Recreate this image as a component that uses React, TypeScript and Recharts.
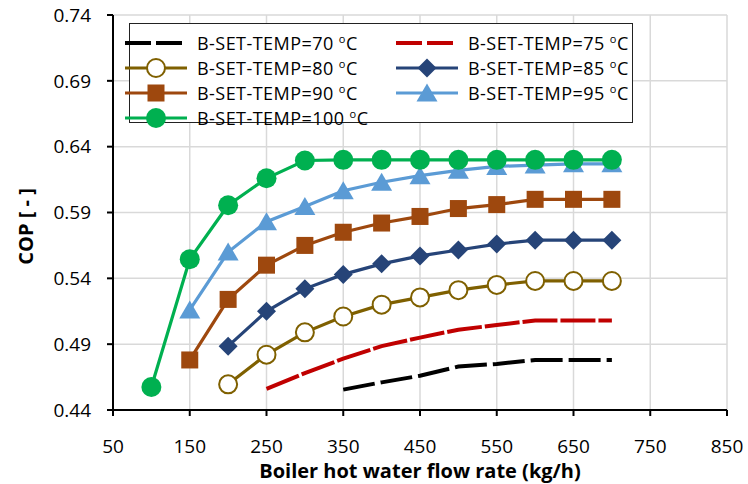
import React from 'react';
import { LineChart, Line, XAxis, YAxis, CartesianGrid, Legend } from 'recharts';

const flowRates = [100, 150, 200, 250, 300, 350, 400, 450, 500, 550, 600, 650, 700];
const cop70 = [null, null, null, null, null, 0.4555, 0.461, 0.466, 0.473, 0.475, 0.478, 0.478, 0.478];
const cop75 = [null, null, null, 0.456, 0.468, 0.479, 0.4885, 0.495, 0.501, 0.5045, 0.508, 0.508, 0.508];
const cop80 = [null, null, 0.4595, 0.482, 0.499, 0.511, 0.52, 0.5255, 0.531, 0.535, 0.538, 0.538, 0.538];
const cop85 = [null, null, 0.4885, 0.515, 0.532, 0.543, 0.551, 0.557, 0.5615, 0.566, 0.569, 0.569, 0.569];
const cop90 = [null, 0.478, 0.524, 0.55, 0.565, 0.575, 0.582, 0.587, 0.593, 0.596, 0.6, 0.6, 0.6];
const cop95 = [null, 0.516, 0.56, 0.583, 0.5945, 0.6065, 0.613, 0.618, 0.622, 0.625, 0.626, 0.627, 0.627];
const cop100 = [0.4575, 0.5545, 0.5955, 0.616, 0.6295, 0.63, 0.63, 0.63, 0.63, 0.63, 0.63, 0.63, 0.63];

const xTicks = [50, 150, 250, 350, 450, 550, 650, 750, 850];
const yTicks = [0.44, 0.49, 0.54, 0.59, 0.64, 0.69, 0.74];

const FONT = '"Open Sans", sans-serif';

type Marker = 'none' | 'open' | 'circle' | 'square' | 'diamond' | 'triangle';

const series: { key: string; temp: number; color: string; marker: Marker; dash?: string; values: (number | null)[] }[] = [
  { key: 't70', temp: 70, color: '#000000', marker: 'none', dash: '32 6', values: cop70 },
  { key: 't75', temp: 75, color: '#C00000', marker: 'none', dash: '35 3', values: cop75 },
  { key: 't80', temp: 80, color: '#7F6000', marker: 'open', values: cop80 },
  { key: 't85', temp: 85, color: '#264478', marker: 'diamond', values: cop85 },
  { key: 't90', temp: 90, color: '#9E480E', marker: 'square', values: cop90 },
  { key: 't95', temp: 95, color: '#5B9BD5', marker: 'triangle', values: cop95 },
  { key: 't100', temp: 100, color: '#00B050', marker: 'circle', values: cop100 },
];

const data = flowRates.map((x, i) => {
  const row: Record<string, number | null> = { x };
  series.forEach(s => { row[s.key] = s.values[i]; });
  return row;
});

const drawMarker = (marker: Marker, color: string, cx: number, cy: number, key?: string) => {
  switch (marker) {
    case 'open':
      return <circle key={key} cx={cx} cy={cy} r={9} fill="#fff" stroke={color} strokeWidth={2} />;
    case 'circle':
      return <circle key={key} cx={cx} cy={cy} r={10} fill={color} />;
    case 'square':
      return <rect key={key} x={cx - 8.5} y={cy - 8.5} width={17} height={17} fill={color} />;
    case 'diamond':
      return <path key={key} d={`M${cx},${cy - 9.5}L${cx + 9.5},${cy}L${cx},${cy + 9.5}L${cx - 9.5},${cy}Z`} fill={color} />;
    case 'triangle':
      return <path key={key} d={`M${cx},${cy - 9.5}L${cx + 10.5},${cy + 8.5}L${cx - 10.5},${cy + 8.5}Z`} fill={color} />;
    default:
      return null;
  }
};

const makeDot = (marker: Marker, color: string) => (props: any) => {
  const { cx, cy, index, value } = props;
  if (value == null || cy == null || isNaN(cy)) return <g key={`e-${index}`} />;
  return drawMarker(marker, color, cx, cy, `d-${index}`);
};

const renderLegend = () => (
  <div style={{ display: 'grid', gridTemplateColumns: '271px 233px', rowGap: 0, paddingTop: 6, fontFamily: FONT, fontSize: 18, letterSpacing: 0.45, lineHeight: '20px', color: '#000' }}>
    {series.map(s => (
      <div key={s.key} style={{ display: 'flex', alignItems: 'center', height: 25, whiteSpace: 'nowrap' }}>
        <svg width={62} height={24} style={{ marginLeft: -5, marginRight: 10 }}>
          <line x1={0} y1={12} x2={62} y2={12} stroke={s.color} strokeWidth={s.dash ? 4 : 3} strokeDasharray={s.dash ? '26 5' : undefined} />
          {drawMarker(s.marker, s.color, 31, 12)}
        </svg>
        <span>B-SET-TEMP={s.temp} <sup style={{ fontSize: 11, lineHeight: '11px', verticalAlign: 'top', position: 'relative', top: 0 }}>o</sup>C</span>
      </div>
    ))}
  </div>
);

const App: React.FC = () => {
  return (
    <div style={{ position: 'absolute', left: 0, top: 0, background: '#fff' }}>
      <LineChart width={748} height={484} data={data} margin={{ top: 15, right: 21, bottom: 14, left: 0 }}>
        <CartesianGrid stroke="#D9D9D9" strokeWidth={1.5} />
        <XAxis
          dataKey="x"
          type="number"
          domain={[50, 850]}
          ticks={xTicks}
          height={60}
          tickSize={6}
          tickMargin={24}
          axisLine={{ stroke: '#000', strokeWidth: 2 }}
          tickLine={{ stroke: '#000', strokeWidth: 2 }}
          tick={{ fill: '#000', fontSize: 19, fontFamily: FONT }}
          label={{
            content: (p: any) => (
              <text x={p.viewBox.x + p.viewBox.width / 2} y={p.viewBox.y + 68} textAnchor="middle" fontFamily={FONT} fontWeight="bold" fontSize={20} fill="#000">
                Boiler hot water flow rate (kg/h)
              </text>
            ),
          }}
        />
        <YAxis
          type="number"
          domain={[0.44, 0.74]}
          ticks={yTicks}
          width={113}
          tickSize={6}
          tickMargin={16}
          tickFormatter={(v: number) => v.toFixed(2)}
          axisLine={{ stroke: '#000', strokeWidth: 2 }}
          tickLine={{ stroke: '#000', strokeWidth: 2 }}
          tick={{ fill: '#000', fontSize: 19, fontFamily: FONT }}
          label={{
            content: (p: any) => {
              const x = p.viewBox.x + 33;
              const y = p.viewBox.y + p.viewBox.height / 2 + 14;
              return (
                <text x={x} y={y} transform={`rotate(-90, ${x}, ${y})`} textAnchor="middle" fontFamily={FONT} fontWeight="bold" fontSize={20} fill="#000">
                  COP [ - ]
                </text>
              );
            },
          }}
        />
        <Legend
          layout="horizontal"
          verticalAlign="middle"
          align="center"
          content={renderLegend}
          wrapperStyle={{ left: 129, top: 23, width: 504, height: 100, border: '1px solid #222', background: '#fff', boxSizing: 'border-box' }}
        />
        {series.map(s => (
          <Line
            key={s.key}
            dataKey={s.key}
            type="linear"
            stroke={s.color}
            strokeWidth={s.dash ? 4 : 3.2}
            strokeDasharray={s.dash}
            dot={s.marker === 'none' ? false : makeDot(s.marker, s.color)}
            activeDot={false}
            isAnimationActive={false}
            connectNulls={false}
          />
        ))}
      </LineChart>
    </div>
  );
};

export default App;
